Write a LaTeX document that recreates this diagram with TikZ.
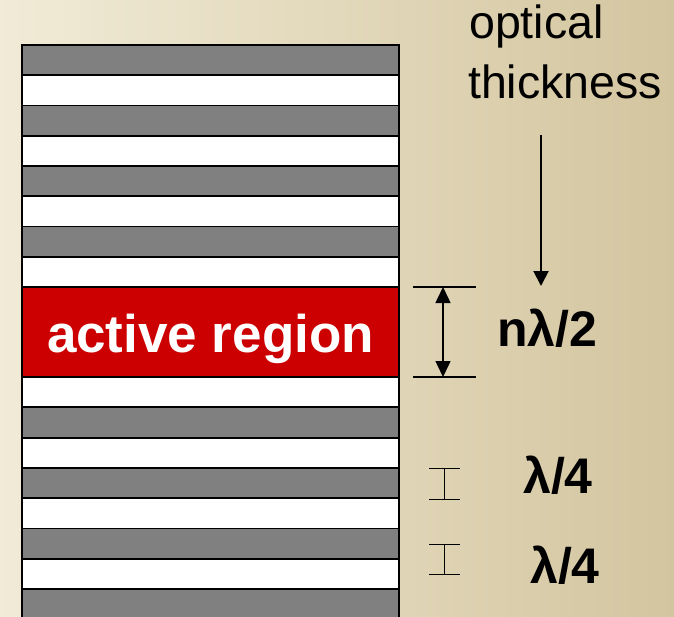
\documentclass[tikz,border=0pt]{standalone}
\usepackage{fontspec}
\setmainfont{Liberation Sans}
\usetikzlibrary{arrows.meta}
\definecolor{bgleft}{RGB}{241,235,215}
\definecolor{bgright}{RGB}{211,197,159}
\definecolor{layergray}{RGB}{128,128,128}
\definecolor{activered}{RGB}{204,0,0}
\begin{document}
\begin{tikzpicture}[x=1pt,y=-1pt,
  graylayer/.style={fill=layergray,draw=black,line width=1.8pt},
  whitelayer/.style={fill=white,draw=black,line width=1.8pt},
  redlayer/.style={fill=activered,draw=black,line width=1.8pt},
  labeltext/.style={inner sep=0pt,anchor=base west,font=\fontsize{46.5}{46.5}\selectfont},
  boldlabel/.style={inner sep=0pt,anchor=base west,font=\bfseries\fontsize{#1}{#1}\selectfont},
  arrowline/.style={line width=2pt},
  thinbar/.style={line width=1pt}]
\useasboundingbox (0,0) rectangle (674,616);
\shade[left color=bgleft,right color=bgright] (0,0) rectangle (674,616);
% upper mirror
\foreach \i in {0,...,7}{
  \pgfmathsetmacro{\ya}{45+30.25*\i}
  \pgfmathsetmacro{\yb}{45+30.25*(\i+1)}
  \pgfmathtruncatemacro{\parity}{mod(\i,2)}
  \ifnum\parity=0
    \draw[graylayer] (22,\ya) rectangle (399,\yb);
  \else
    \draw[whitelayer] (22,\ya) rectangle (399,\yb);
  \fi
}
% lower mirror
\foreach \i in {0,...,7}{
  \pgfmathsetmacro{\ya}{377+30.3*\i}
  \pgfmathsetmacro{\yb}{377+30.3*(\i+1)}
  \pgfmathtruncatemacro{\parity}{mod(\i,2)}
  \ifnum\parity=0
    \draw[whitelayer] (22,\ya) rectangle (399,\yb);
  \else
    \draw[graylayer] (22,\ya) rectangle (399,\yb);
  \fi
}
% active region
\draw[redlayer] (22,287) rectangle (399,377);
\node[inner sep=0pt,anchor=base,text=white,font=\bfseries\fontsize{53}{53}\selectfont] (active) at (210.5,352) {active region};
% optical thickness label and arrow
\node[labeltext] (optical) at (469,38) {optical};
\node[labeltext] (thickness) at (468,98) {thickness};
\coordinate (otop) at (541,135);
\coordinate (obot) at (541,286);
\draw[arrowline,-{Triangle[width=15pt,length=15pt]}] (otop) -- (obot);
% n lambda/2 dimension
\coordinate (dtop) at (443,287);
\coordinate (dbot) at (443,377);
\draw[line width=1.5pt] (413,287) -- (476,287);
\draw[line width=1.5pt] (413,377) -- (476,377);
\draw[line width=1.5pt,{Triangle[width=15pt,length=16pt]}-{Triangle[width=15pt,length=16pt]}] (dtop) -- (dbot);
\node[boldlabel=50] (nhalf) at (497,346) {nλ/2};
% lambda/4 markers
\draw[thinbar] (429,468) -- (460,468) (444.5,468) -- (444.5,499) (429,499) -- (460,499);
\draw[thinbar] (429,544) -- (460,544) (444.5,544) -- (444.5,574) (429,574) -- (460,574);
\node[boldlabel=50] (qa) at (523,493) {λ/4};
\node[boldlabel=50] (qb) at (530,583) {λ/4};
\end{tikzpicture}
\end{document}
